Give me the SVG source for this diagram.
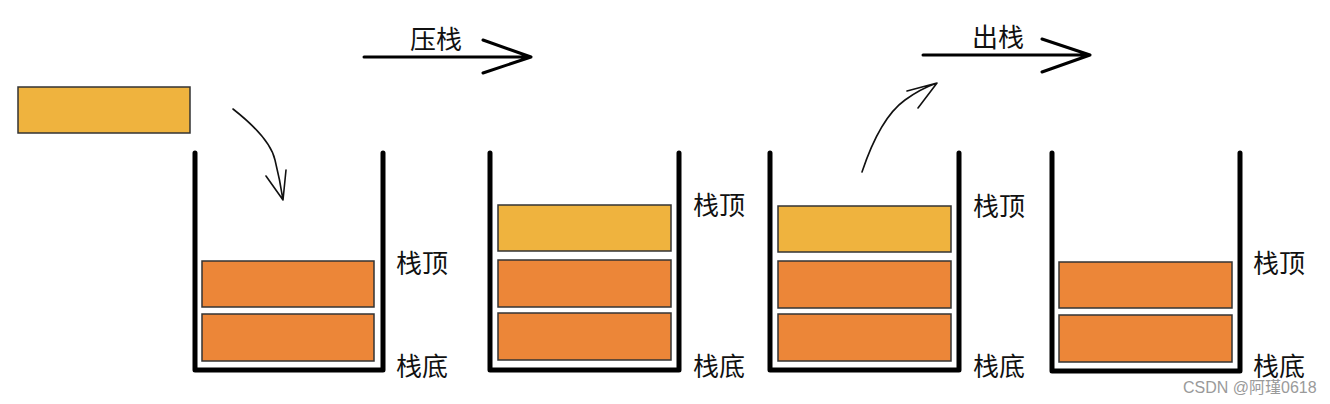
<svg xmlns="http://www.w3.org/2000/svg" width="1330" height="404" viewBox="0 0 1330 404">
<style>
.wall{fill:none;stroke:#000;stroke-width:5;stroke-linecap:round;stroke-linejoin:round}
.y{fill:#EFB33E;stroke:#333;stroke-width:1.5}
.o{fill:#EC8638;stroke:#333;stroke-width:1.5}
.lbl{font-family:"Noto Sans CJK SC","Liberation Sans",sans-serif;font-size:26px;fill:#111}
.thin{fill:none;stroke:#111;stroke-width:1.6;stroke-linecap:round;stroke-linejoin:round}
.big{fill:none;stroke:#000;stroke-width:3;stroke-linecap:round;stroke-linejoin:round}
.wm{font-family:"Liberation Sans","Noto Sans CJK SC",sans-serif;font-size:16px;fill:#9a9a9a}
</style>
<rect width="1330" height="404" fill="#fff"/>
<g id="block-incoming"><rect class="y" x="18" y="87" width="172" height="46"/></g>
<g id="stack1">
<path class="wall" d="M195 153 V370 H383 V153"/>
<rect class="o" x="202" y="261" width="172" height="46"/>
<rect class="o" x="202" y="314" width="172" height="47"/>
<text class="lbl" x="396" y="273">栈顶</text>
<text class="lbl" x="396" y="376">栈底</text>
</g>
<g id="stack2">
<path class="wall" d="M490 153 V370 H679 V153"/>
<rect class="y" x="498" y="205" width="173" height="46"/>
<rect class="o" x="498" y="260" width="173" height="47"/>
<rect class="o" x="498" y="313" width="173" height="47"/>
<text class="lbl" x="693" y="215">栈顶</text>
<text class="lbl" x="693" y="376">栈底</text>
</g>
<g id="stack3">
<path class="wall" d="M770 153 V370 H959 V153"/>
<rect class="y" x="778" y="206" width="173" height="46"/>
<rect class="o" x="778" y="261" width="173" height="47"/>
<rect class="o" x="778" y="314" width="173" height="47"/>
<text class="lbl" x="973" y="216">栈顶</text>
<text class="lbl" x="973" y="376">栈底</text>
</g>
<g id="stack4">
<path class="wall" d="M1052 153 V371 H1240 V153"/>
<rect class="o" x="1059" y="262" width="173" height="46"/>
<rect class="o" x="1059" y="315" width="173" height="47"/>
<text class="lbl" x="1253" y="273">栈顶</text>
<text class="lbl" x="1253" y="376">栈底</text>
</g>
<g id="connectors">
<path class="thin" d="M233 109 Q270 138 275 160 Q280 180 283 200 M266 176 L283 200 L286 170"/>
<path class="thin" d="M862 172 Q880 118 905 100 Q920 89 937 83 M907 91 L937 83 L918 108"/>
<path class="big" d="M364 57 H531 M483 40 L531 57 L483 73"/>
<path class="big" d="M923 55 H1090 M1042 39 L1090 55 L1042 72"/>
<text class="lbl" x="410" y="49">压栈</text>
<text class="lbl" x="972" y="47">出栈</text>
</g>
<text class="wm" x="1183" y="393">CSDN @阿瑾0618</text>
</svg>
